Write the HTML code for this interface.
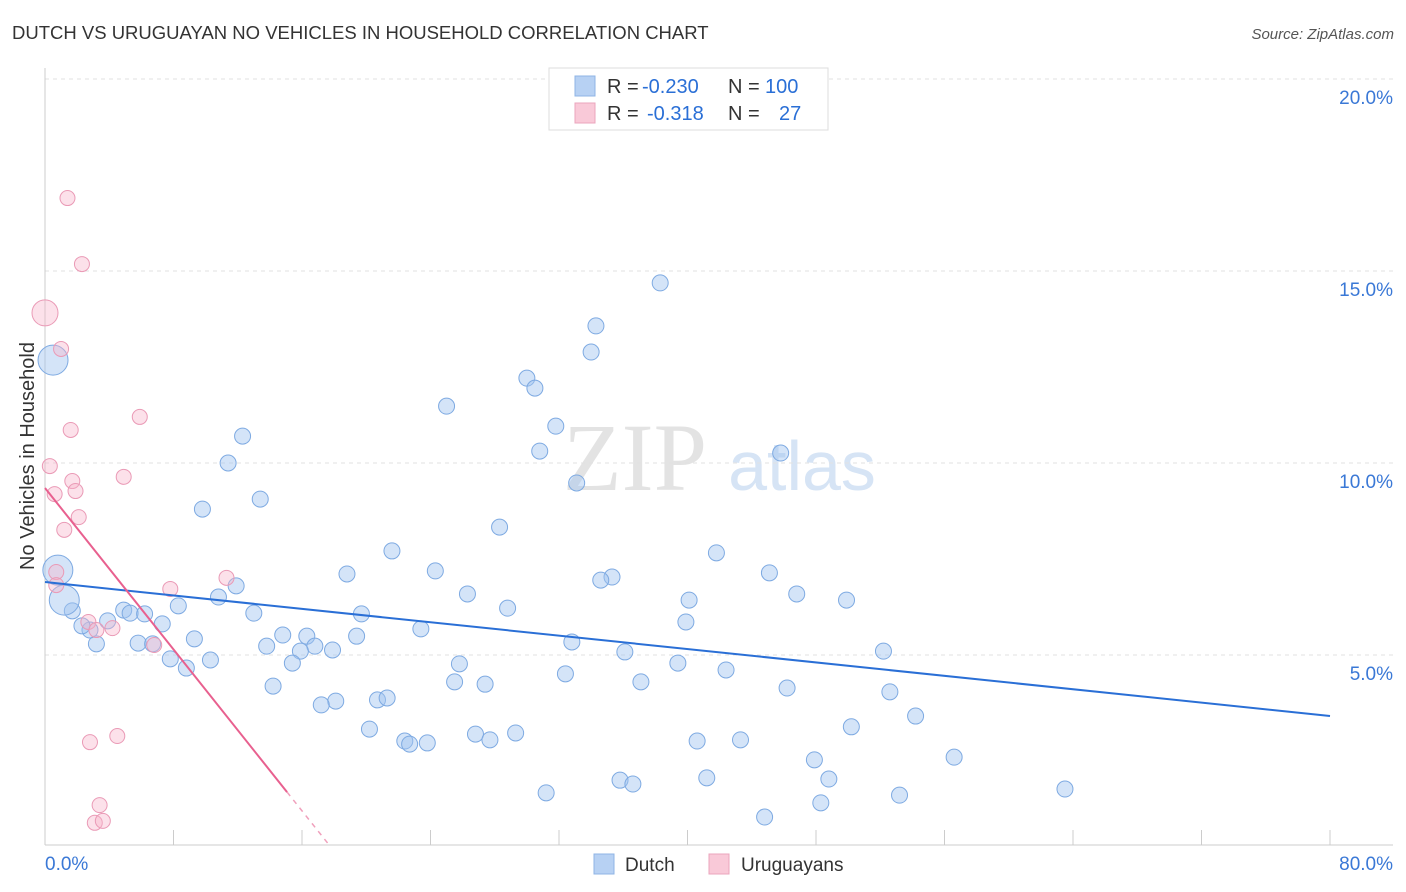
<!DOCTYPE html>
<html><head><meta charset="utf-8"><style>
body{margin:0;background:#fff;font-family:"Liberation Sans",sans-serif;}
svg{display:block}
</style></head><body>
<svg id="chart" width="1406" height="892" xmlns="http://www.w3.org/2000/svg">
<text x="12" y="39" font-size="18.5" fill="#333">DUTCH VS URUGUAYAN NO VEHICLES IN HOUSEHOLD CORRELATION CHART</text>
<text x="1394" y="39" font-size="15" fill="#555" font-style="italic" text-anchor="end">Source: ZipAtlas.com</text>
<text transform="translate(34,456) rotate(-90)" font-size="20" fill="#333" text-anchor="middle">No Vehicles in Household</text>
<g>
<text x="635" y="490" font-size="96" font-family="Liberation Serif,serif" fill="#e3e3e3" text-anchor="middle">ZIP</text>
<text x="802" y="490" font-size="70" fill="#d6e4f5" text-anchor="middle">atlas</text>
</g>
<g id="grid"></g><g id="axes"></g><g id="marks"></g>
<g>
<rect x="549" y="68" width="279" height="62" fill="#fff" stroke="#ddd"/>
<rect x="575" y="76" width="20" height="20" fill="#b7d1f3" stroke="#8fb4e6"/>
<rect x="575" y="103" width="20" height="20" fill="#f9c9d8" stroke="#eba5bd"/>
<text x="607" y="93" font-size="20" fill="#333">R =</text>
<text x="642" y="93" font-size="20" fill="#2a6fd6">-0.230</text>
<text x="728" y="93" font-size="20" fill="#333">N =</text>
<text x="765" y="93" font-size="20" fill="#2a6fd6">100</text>
<text x="607" y="120" font-size="20" fill="#333">R =</text>
<text x="647" y="120" font-size="20" fill="#2a6fd6">-0.318</text>
<text x="728" y="120" font-size="20" fill="#333">N =</text>
<text x="779" y="120" font-size="20" fill="#2a6fd6">27</text>
</g>
<g>
<rect x="594" y="854" width="20" height="20" fill="#b7d1f3" stroke="#8fb4e6"/>
<text x="625" y="871" font-size="19" fill="#333">Dutch</text>
<rect x="709" y="854" width="20" height="20" fill="#f9c9d8" stroke="#eba5bd"/>
<text x="741" y="871" font-size="19" fill="#333">Uruguayans</text>
</g>
</svg>
<script>
const dutchX=[38.3,34.3,34.0,30.0,30.5,25.0,31.8,12.3,30.8,45.8,11.4,33.1,13.4,9.8,28.3,21.6,41.8,45.1,18.8,24.3,35.3,34.6,11.9,10.8,8.3,26.3,40.1,46.8,49.9,28.8,19.7,13.0,4.9,5.3,6.2,3.9,7.3,39.9,23.4,14.8,16.3,9.3,19.4,5.8,6.7,13.8,16.8,17.9,32.8,15.9,36.1,52.2,3.2,2.8,2.3,7.8,10.3,25.8,15.4,8.8,39.4,42.4,32.4,25.5,27.4,37.1,14.2,46.2,52.6,18.1,17.2,20.7,21.3,54.2,20.2,50.2,26.8,29.3,22.4,22.7,23.8,27.7,40.6,43.3,56.6,47.9,35.8,36.6,41.2,48.8,63.5,31.2,53.2,48.3,44.8,1.7,1.2,0.8,0.5];
const dutchY=[14.69,13.57,12.89,12.21,11.95,11.48,10.96,10.70,10.31,10.26,10.0,9.48,9.06,8.80,8.33,7.71,7.66,7.14,7.11,7.19,7.03,6.95,6.80,6.51,6.28,6.59,6.43,6.59,6.43,6.22,6.07,6.09,6.17,6.09,6.07,5.89,5.81,5.86,5.68,5.52,5.49,5.42,5.49,5.31,5.29,5.23,5.23,5.13,5.34,5.10,5.08,5.10,5.29,5.65,5.76,4.90,4.87,4.77,4.79,4.66,4.79,4.61,4.51,4.30,4.24,4.30,4.19,4.14,4.04,3.80,3.70,3.83,3.88,3.41,3.07,3.13,2.94,2.97,2.76,2.68,2.71,2.79,2.76,2.79,2.34,2.27,1.74,1.64,1.80,1.77,1.51,1.41,1.35,1.15,0.78,6.15,6.43,7.21,12.68];
const dutchBig=[0,0,0,0,0,0,0,0,0,0,0,0,0,0,0,0,0,0,0,0,0,0,0,0,0,0,0,0,0,0,0,0,0,0,0,0,0,0,0,0,0,0,0,0,0,0,0,0,0,0,0,0,0,0,0,0,0,0,0,0,0,0,0,0,0,0,0,0,0,0,0,0,0,0,0,0,0,0,0,0,0,0,0,0,0,0,0,0,0,0,0,0,0,0,0,0,1,1,1];
const uruX=[1.4,2.3,0.0,1.0,5.9,1.6,0.3,4.9,1.7,0.6,1.9,2.1,1.2,0.7,0.7,7.8,11.3,2.7,4.2,3.2,6.8,2.8,4.5,3.4,3.1,3.6];
const uruY=[16.90,15.18,13.91,12.97,11.20,10.86,9.92,9.64,9.53,9.19,9.27,8.59,8.26,7.16,6.82,6.72,7.01,5.86,5.70,5.65,5.26,2.73,2.89,1.09,0.63,0.68];
const uruBig=[0,0,1,0,0,0,0,0,0,0,0,0,0,0,0,0,0,0,0,0,0,0,0,0,0,0];
const dutchTrend=[6.90,3.41];
const uruTrend=[9.35,1.43,15.07,17.7];
const yTicks=[5,10,15,20];
const xTickLabels=["0.0%","80.0%"];

const NS="http://www.w3.org/2000/svg";
const X0=45,X1=1330,YB=847,PX=192/5;
const sx=v=>X0+(v/80)*(X1-X0);
const sy=v=>YB-v*PX;
function mk(tag,attrs,parent){const e=document.createElementNS(NS,tag);for(const k in attrs)e.setAttribute(k,attrs[k]);document.getElementById(parent).appendChild(e);return e;}

yTicks.forEach(t=>{
  const g=mk('line',{x1:X0,x2:1393,y1:sy(t),y2:sy(t),stroke:'#e2e2e2','stroke-dasharray':'4,4'},'grid');
  
  
  const l=mk('text',{x:1393,y:sy(t)+25,'font-size':19,fill:'#3a78d6','text-anchor':'end'},'axes');
  
  
  l.textContent=t.toFixed(1)+'%';
});
const ax=mk('line',{x1:X0,x2:X0,y1:68,y2:845,stroke:'#ccc'},'axes');


const bx=mk('line',{x1:X0,x2:1393,y1:845,y2:845,stroke:'#ccc'},'axes');


for(let i=0;i<=10;i++){
  const t=mk('line',{x1:sx(i*8),x2:sx(i*8),y1:830,y2:845,stroke:'#ccc'},'axes');
  
  
}
const xl0=mk('text',{x:45,y:870,'font-size':19,fill:'#3a78d6'},'axes');


xl0.textContent=xTickLabels[0];
const xl1=mk('text',{x:1393,y:870,'font-size':19,fill:'#3a78d6','text-anchor':'end'},'axes');


xl1.textContent=xTickLabels[1];

dutchX.forEach((v,i)=>{
  const c=mk('circle',{cx:sx(v),cy:sy(dutchY[i]),r:dutchBig[i]?15:8,fill:'rgba(160,196,240,0.45)',stroke:'#7eaae2','stroke-width':1},'marks');
  
  
});
uruX.forEach((v,i)=>{
  const c=mk('circle',{cx:sx(v),cy:sy(uruY[i]),r:uruBig[i]?13:7.5,fill:'rgba(247,180,202,0.4)',stroke:'#ea9ab6','stroke-width':1},'marks');
  
  
});
const dl=mk('line',{x1:sx(0),y1:sy(dutchTrend[0]),x2:sx(80),y2:sy(dutchTrend[1]),stroke:'#2a6fd6','stroke-width':2},'marks');


const slope=(uruTrend[1]-uruTrend[0])/uruTrend[2];
const ul=mk('line',{x1:sx(0),y1:sy(uruTrend[0]),x2:sx(uruTrend[2]),y2:sy(uruTrend[1]),stroke:'#e8608f','stroke-width':2},'marks');


const ud=mk('line',{x1:sx(uruTrend[2]),y1:sy(uruTrend[1]),x2:sx(uruTrend[3]),y2:sy(uruTrend[0]+slope*uruTrend[3]),stroke:'#f0a0bc','stroke-width':1.5,'stroke-dasharray':'5,5'},'marks');


</script>
</body></html>
